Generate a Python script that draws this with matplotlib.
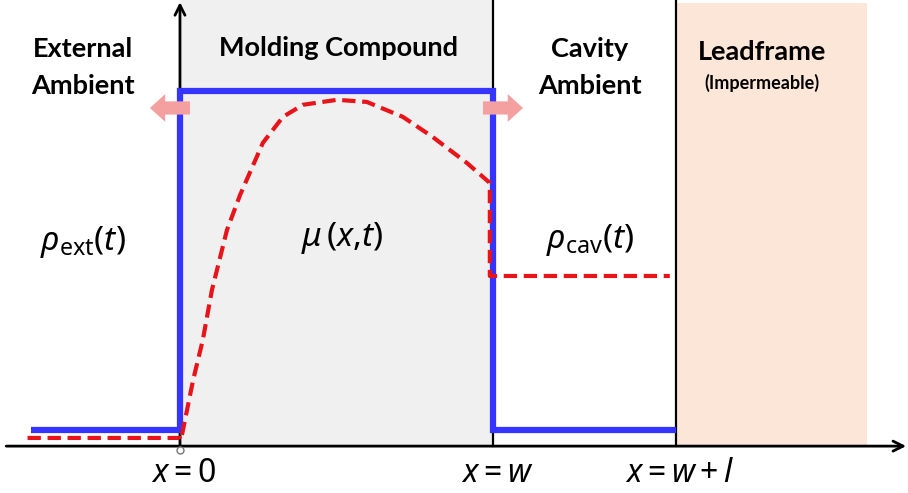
import matplotlib
matplotlib.use('Agg')
import matplotlib.pyplot as plt

plt.rcParams['font.family'] = ['Lato', 'DejaVu Sans']
plt.rcParams['mathtext.fontset'] = 'custom'
plt.rcParams['mathtext.rm'] = 'Noto Sans'
plt.rcParams['mathtext.it'] = 'Noto Sans:italic'

# geometry (x normalised by molding compound thickness w)
W = 1.0
L = 0.585
LEADFRAME_END = 2.195
X_START = -0.475

# saturated concentration (blue) and moisture profile (red)
sat_x = [X_START, 0.0, 0.0, W, W, W + L]
sat_y = [0.045, 0.045, 1.0, 1.0, 0.045, 0.045]

rho_ext = 0.023
rho_cav = 0.479
mu_x = [0.003, 0.042, 0.073, 0.102, 0.150, 0.192, 0.265, 0.329, 0.393,
        0.502, 0.597, 0.712, 0.808, 0.917, 0.990]
mu_y = [0.017, 0.186, 0.299, 0.439, 0.608, 0.707, 0.854, 0.927, 0.961,
        0.975, 0.969, 0.927, 0.870, 0.797, 0.741]

region_labels = ['External\nAmbient', 'Molding Compound', 'Cavity\nAmbient']
region_x = [-0.31, 0.505, 1.31]
pos_labels = ['$x = 0$', '$x = w$', '$x = w + l$']
pos_x = [0.0, W, W + L]

fig = plt.figure(figsize=(9.08, 4.93), dpi=100)
ax = fig.add_axes([0, 0, 1, 1])
ax.set_xlim(-0.575, 2.326)
ax.set_ylim(-0.132, 1.256)
ax.axis('off')

# regions
ax.fill_between([0, W], 0, 1.256, color='#f0f0f0', lw=0, zorder=0)
ax.fill_between([W + L, LEADFRAME_END], 0, 1.248, color='#fce6d8', lw=0, zorder=0)
ax.plot([W, W], [0, 1.256], color='black', lw=1.6, zorder=1)
ax.plot([W + L, W + L], [0, 1.256], color='black', lw=1.6, zorder=1)

# axes with arrows
ax.annotate('', xy=(2.32, 0), xytext=(-0.555, 0),
            arrowprops=dict(arrowstyle='->', lw=2, color='black',
                            mutation_scale=18, shrinkA=0, shrinkB=0), zorder=2)
ax.annotate('', xy=(0, 1.25), xytext=(0, 0),
            arrowprops=dict(arrowstyle='->', lw=2, color='black',
                            mutation_scale=18, shrinkA=0, shrinkB=0), zorder=2)
ax.plot([0], [-0.012], 'o', ms=5, mfc='white', mec='#777777', mew=1, zorder=3)

# curves
ax.plot(sat_x, sat_y, color='#3535ff', lw=4.5, solid_joinstyle='miter',
        solid_capstyle='butt', zorder=4)
red_x = [X_START - 0.012, 0.0] + mu_x + [mu_x[-1], W + L - 0.02]
red_y = [rho_ext, rho_ext] + mu_y + [rho_cav, rho_cav]
ax.plot(red_x, red_y, color='#e8141a', lw=3, linestyle=(0, (3.2, 1.6)),
        dash_capstyle='butt', zorder=5)

# flux arrows
for tail, tip in [(0.032, -0.096), (W - 0.032, W + 0.096)]:
    ax.annotate('', xy=(tip, 0.952), xytext=(tail, 0.952),
                arrowprops=dict(arrowstyle='simple,head_width=2.0,head_length=1.1,tail_width=0.95',
                                mutation_scale=10, fc='#f5a0a0', ec='none',
                                shrinkA=0, shrinkB=0), zorder=6)

# labels
for txt, x in zip(region_labels, region_x):
    ax.text(x, 1.066 if '\n' in txt else 1.121, txt, ha='center', va='center',
            fontsize=19.5, fontweight='bold', linespacing=1.62)
ax.text(1.86, 1.11, 'Leadframe', ha='center', va='center', fontsize=19.5,
        fontweight='bold')
ax.text(1.86, 1.022, '(Impermeable)', ha='center', va='center', fontsize=13,
        fontweight='bold')

ax.text(-0.31, 0.575, r'$\rho_{\mathrm{ext}}(t)$', ha='center', va='center', fontsize=24)
ax.text(0.518, 0.585, r'$\mu\,(x{,}t)$', ha='center', va='center', fontsize=24)
ax.text(1.31, 0.58, r'$\rho_{\mathrm{cav}}(t)$', ha='center', va='center', fontsize=24)

for txt, x in zip(pos_labels, pos_x):
    ax.text(x + 0.012, -0.077, txt, ha='center', va='center', fontsize=23)

fig.savefig('out.png', dpi=100)
